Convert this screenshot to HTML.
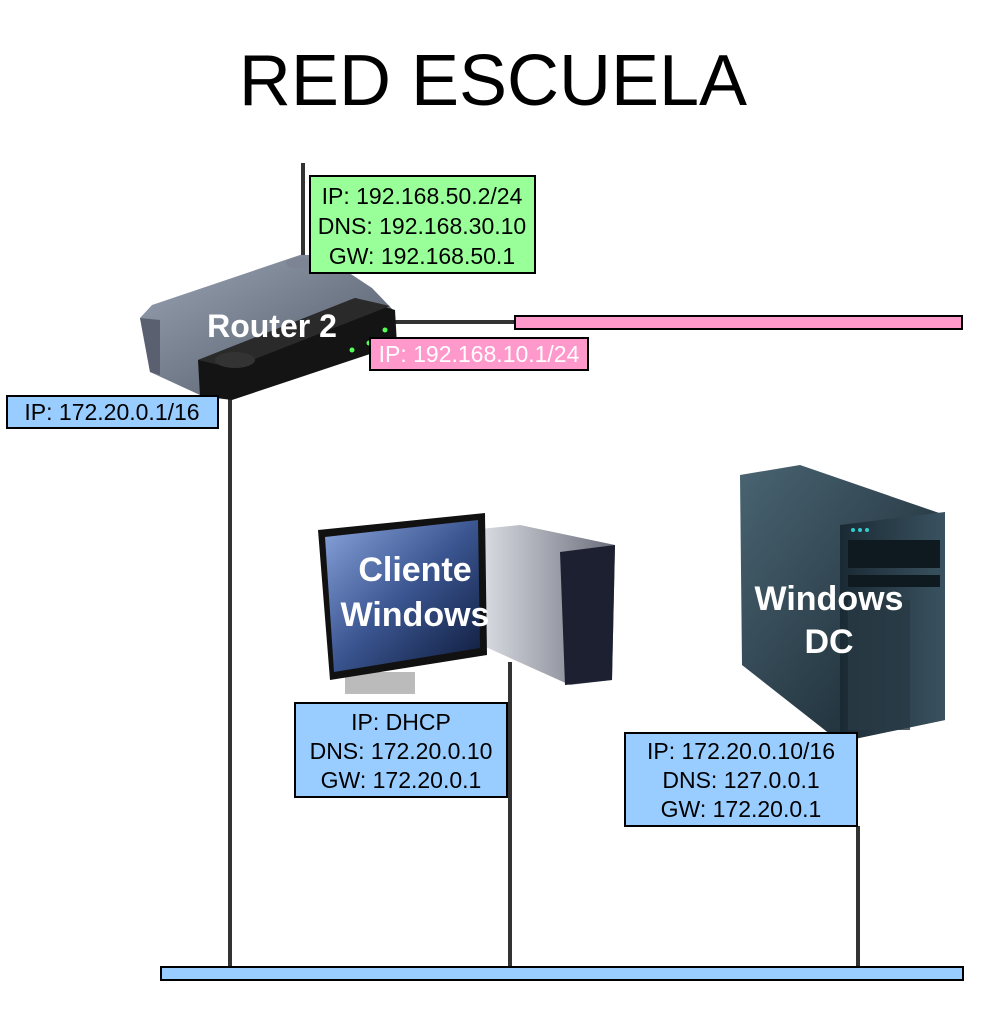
<!DOCTYPE html>
<html><head><meta charset="utf-8"><style>
html,body{margin:0;padding:0;background:#fff;}
svg{display:block;}
text{font-family:"Liberation Sans",Arial,sans-serif;}
</style></head><body>
<svg width="1006" height="1020" viewBox="0 0 1006 1020" xmlns="http://www.w3.org/2000/svg">
<defs>
<linearGradient id="rg" x1="0" y1="0" x2="1" y2="1"><stop offset="0" stop-color="#9aa4b4"/><stop offset="1" stop-color="#4e5664"/></linearGradient>
<linearGradient id="scr" x1="0" y1="0" x2="1" y2="1"><stop offset="0" stop-color="#8aa4dc"/><stop offset="0.5" stop-color="#3a5590"/><stop offset="1" stop-color="#0e1a3a"/></linearGradient>
<linearGradient id="tw" x1="0" y1="0" x2="1" y2="0"><stop offset="0" stop-color="#e4e6ec"/><stop offset="1" stop-color="#6a6e7a"/></linearGradient>
<linearGradient id="sv" x1="0" y1="0" x2="1" y2="1"><stop offset="0" stop-color="#4a6472"/><stop offset="1" stop-color="#14232c"/></linearGradient>
<linearGradient id="sv2" x1="0" y1="0" x2="1" y2="0"><stop offset="0" stop-color="#1a2a34"/><stop offset="1" stop-color="#3a5260"/></linearGradient>
</defs>

<text x="493" y="105" font-size="72" text-anchor="middle" fill="#000">RED ESCUELA</text>

<g stroke="#333" stroke-width="4">
<line x1="303" y1="163" x2="303" y2="260"/>
<line x1="380" y1="322" x2="516" y2="322"/>
<line x1="230" y1="395" x2="230" y2="967"/>
<line x1="510" y1="662" x2="510" y2="967"/>
<line x1="858" y1="826" x2="858" y2="967"/>
</g>

<polygon points="140,318 152,305 300,255 322,255 372,288 395,312 230,372 200,395 150,372" fill="url(#rg)"/>
<polygon points="140,318 150,372 160,375 160,320" fill="#5a6070"/>
<polygon points="198,360 355,298 395,310 397,345 232,400 200,396" fill="#141414"/>
<polygon points="198,360 355,298 390,306 232,368" fill="#2a2a2a"/>
<ellipse cx="235" cy="360" rx="20" ry="8" fill="#333"/>
<ellipse cx="300" cy="263" rx="14" ry="6" fill="#7d8594"/>
<circle cx="352" cy="350" r="2.5" fill="#5f5"/><circle cx="369" cy="343" r="2.5" fill="#5f5"/><circle cx="385" cy="330" r="2.5" fill="#5f5"/>
<text x="272" y="337" font-size="32" font-weight="bold" fill="#fff" text-anchor="middle">Router 2</text>

<rect x="310" y="176" width="225" height="97" fill="#99ff99" stroke="#000" stroke-width="2"/>
<text x="422" y="204" font-size="23" text-anchor="middle">IP: 192.168.50.2/24</text>
<text x="422" y="234" font-size="23" text-anchor="middle">DNS: 192.168.30.10</text>
<text x="422" y="264" font-size="23" text-anchor="middle">GW: 192.168.50.1</text>

<rect x="515" y="316" width="447" height="13" fill="#ff99cc" stroke="#000" stroke-width="2"/>
<rect x="370" y="338" width="218" height="32" fill="#ff99cc" stroke="#000" stroke-width="2"/>
<text x="479" y="362" font-size="23" text-anchor="middle" fill="#fff">IP: 192.168.10.1/24</text>

<rect x="7" y="396" width="211" height="32" fill="#99ccff" stroke="#000" stroke-width="2"/>
<text x="112" y="420" font-size="23" text-anchor="middle">IP: 172.20.0.1/16</text>

<polygon points="470,530 520,525 615,545 612,680 570,685 470,640" fill="url(#tw)"/>
<polygon points="560,552 615,545 612,680 565,685" fill="#1c2030"/>
<rect x="345" y="672" width="70" height="22" fill="#bbb"/>
<polygon points="318,530 485,513 487,655 330,680" fill="#111"/>
<polygon points="325,537 478,520 480,648 334,672" fill="url(#scr)"/>
<text x="415" y="581" font-size="34" font-weight="bold" fill="#fff" text-anchor="middle">Cliente</text>
<text x="415" y="626" font-size="34" font-weight="bold" fill="#fff" text-anchor="middle">Windows</text>

<polygon points="740,475 800,465 945,515 945,720 840,742 742,665" fill="url(#sv)"/>
<polygon points="840,525 945,512 945,720 840,742" fill="url(#sv2)"/>
<rect x="848" y="540" width="92" height="28" fill="#0e1a20"/>
<rect x="848" y="575" width="92" height="12" fill="#0e1a20"/>
<rect x="848" y="600" width="62" height="130" fill="#283a44" opacity="0.8"/>
<circle cx="853" cy="530" r="2" fill="#3cc"/><circle cx="860" cy="530" r="2" fill="#3cc"/><circle cx="867" cy="530" r="2" fill="#3cc"/>
<text x="829" y="610" font-size="34" font-weight="bold" fill="#fff" text-anchor="middle">Windows</text>
<text x="829" y="653" font-size="34" font-weight="bold" fill="#fff" text-anchor="middle">DC</text>

<rect x="295" y="703" width="212" height="94" fill="#99ccff" stroke="#000" stroke-width="2"/>
<text x="401" y="730" font-size="23" text-anchor="middle">IP: DHCP</text>
<text x="401" y="759" font-size="23" text-anchor="middle">DNS: 172.20.0.10</text>
<text x="401" y="788" font-size="23" text-anchor="middle">GW: 172.20.0.1</text>

<rect x="625" y="733" width="232" height="93" fill="#99ccff" stroke="#000" stroke-width="2"/>
<text x="741" y="759" font-size="23" text-anchor="middle">IP: 172.20.0.10/16</text>
<text x="741" y="788" font-size="23" text-anchor="middle">DNS: 127.0.0.1</text>
<text x="741" y="817" font-size="23" text-anchor="middle">GW: 172.20.0.1</text>

<rect x="161" y="967" width="802" height="13" fill="#99ccff" stroke="#000" stroke-width="2"/>
</svg>
</body></html>
